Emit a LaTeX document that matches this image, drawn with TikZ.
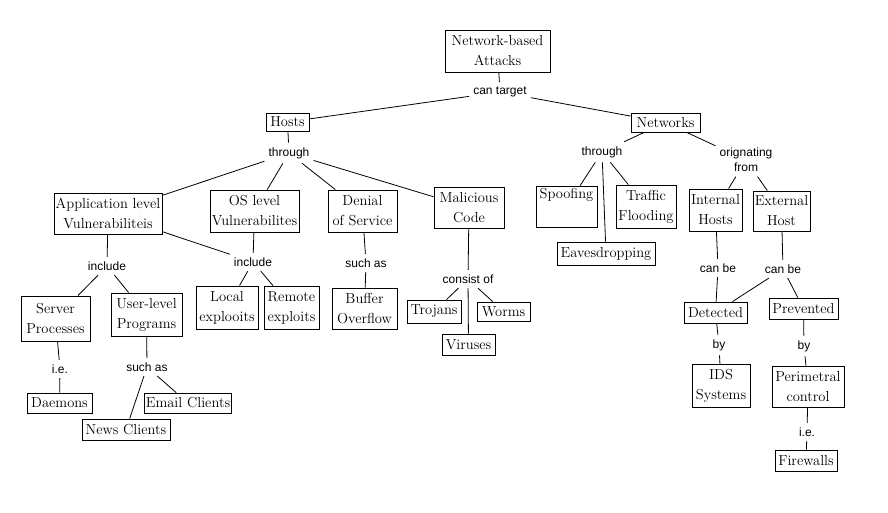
\documentclass[tikz,border=0pt]{standalone}
\usepackage{fontspec}
\newfontfamily\lblfont{Liberation Sans}
\begin{document}
\begin{tikzpicture}[x=1pt,y=-1pt,
  box/.style={draw, line width=0.8pt, align=center, inner sep=1pt, font=\fontsize{14.5}{20}\selectfont},
  lbl/.style={inner xsep=4pt, inner ysep=4.5pt, align=center, font=\lblfont\fontsize{12}{15}\selectfont},
  conn/.style={line width=0.8pt}]
\useasboundingbox[fill=white] (0,0) rectangle (888,512);
% boxes
\node[box, minimum width=105pt, minimum height=42pt] (nba) at (497.5,51) {Network-based\\Attacks};
\node[box, minimum width=43pt, minimum height=18pt] (hosts) at (287.5,122) {Hosts};
\node[box, minimum width=69pt, minimum height=19pt] (networks) at (665.5,122.5) {Networks};
\node[box, minimum width=108pt, minimum height=41pt] (app) at (108,213.5) {Application level\\Vulnerabiliteis};
\node[box, minimum width=89pt, minimum height=42pt] (os) at (254.5,211) {OS level\\Vulnerabilites};
\node[box, minimum width=69pt, minimum height=42pt] (dos) at (362.5,211) {Denial\\of Service};
\node[box, minimum width=70pt, minimum height=41pt] (mal) at (469,207.5) {Malicious\\Code};
\node[box, minimum width=61pt, minimum height=41pt] (spoof) at (566.5,206.5) {Spoofing\\\strut};
\node[box, minimum width=60pt, minimum height=43pt] (traffic) at (646,206.5) {Traffic\\Flooding};
\node[box, minimum width=98pt, minimum height=23pt] (eaves) at (606,253.5) {Eavesdropping};
\node[box, minimum width=53pt, minimum height=42pt] (internal) at (715.5,210) {Internal\\Hosts};
\node[box, minimum width=57pt, minimum height=40pt] (external) at (781.5,211) {External\\Host};
\node[box, minimum width=69pt, minimum height=45pt] (server) at (55.5,318.5) {Server\\Processes};
\node[box, minimum width=71pt, minimum height=43pt] (user) at (146.5,314.5) {User-level\\Programs};
\node[box, minimum width=62pt, minimum height=43pt] (local) at (227,307.5) {Local\\explooits};
\node[box, minimum width=55pt, minimum height=43pt] (remote) at (291.5,307.5) {Remote\\exploits};
\node[box, minimum width=65pt, minimum height=41pt] (buffer) at (364.5,308.5) {Buffer\\Overflow};
\node[box, minimum width=65pt, minimum height=20pt] (daemons) at (59.5,403) {Daemons};
\node[box, minimum width=86pt, minimum height=20pt] (email) at (188,403) {Email Clients};
\node[box, minimum width=88pt, minimum height=21pt] (news) at (126,429.5) {News Clients};
\node[box, minimum width=54pt, minimum height=23pt] (trojans) at (434,311.5) {Trojans};
\node[box, minimum width=53pt, minimum height=19pt] (worms) at (503.5,311.5) {Worms};
\node[box, minimum width=53pt, minimum height=21pt] (viruses) at (468.5,344.5) {Viruses};
\node[box, minimum width=63pt, minimum height=21pt] (detected) at (715.5,312.5) {Detected};
\node[box, minimum width=69pt, minimum height=21pt] (prevented) at (803.5,308.5) {Prevented};
\node[box, minimum width=58pt, minimum height=43pt] (ids) at (721,385.5) {IDS\\Systems};
\node[box, minimum width=72pt, minimum height=41pt] (perim) at (808,386.5) {Perimetral\\control};
\node[box, minimum width=62pt, minimum height=21pt] (firewalls) at (806,460.5) {Firewalls};
% labels
\node[lbl] (cantarget) at (500,92) {can target};
\node[lbl] (through1) at (289,153) {through};
\node[lbl] (through2) at (602,152) {through};
\node[lbl] (orig) at (746,160) {orignating\\from};
\node[lbl] (include1) at (107,266) {include};
\node[lbl] (include2) at (253,262) {include};
\node[lbl] (suchas1) at (366,263) {such as};
\node[lbl] (consist) at (468,279) {consist of};
\node[lbl] (ie1) at (60,369) {i.e.};
\node[lbl] (suchas2) at (147,367) {such as};
\node[lbl] (canbe1) at (718,268) {can be};
\node[lbl] (canbe2) at (783,269) {can be};
\node[lbl] (by1) at (719,345) {by};
\node[lbl] (by2) at (804,346) {by};
\node[lbl] (ie2) at (807,432) {i.e.};
% connectors
\draw[conn] (nba) -- (cantarget);
\draw[conn] (cantarget) -- (hosts);
\draw[conn] (cantarget) -- (networks);
\draw[conn] (hosts) -- (through1);
\draw[conn] (through1) -- (app);
\draw[conn] (through1) -- (os);
\draw[conn] (through1) -- (dos);
\draw[conn] (through1) -- (mal);
\draw[conn] (app) -- (include1);
\draw[conn] (app) -- (include2);
\draw[conn] (os) -- (include2);
\draw[conn] (include1) -- (server);
\draw[conn] (include1) -- (user);
\draw[conn] (include2) -- (local);
\draw[conn] (include2) -- (remote);
\draw[conn] (dos) -- (suchas1);
\draw[conn] (suchas1) -- (buffer);
\draw[conn] (mal) -- (consist);
\draw[conn] (consist) -- (trojans);
\draw[conn] (consist) -- (worms);
\draw[conn] (consist) -- (viruses);
\draw[conn] (server) -- (ie1);
\draw[conn] (ie1) -- (daemons);
\draw[conn] (user) -- (suchas2);
\draw[conn] (suchas2) -- (email);
\draw[conn] (suchas2) -- (news);
\draw[conn] (networks) -- (through2);
\draw[conn] (through2) -- (spoof);
\draw[conn] (through2) -- (traffic);
\draw[conn] (through2) -- (eaves);
\draw[conn] (networks) -- (orig);
\draw[conn] (orig) -- (internal);
\draw[conn] (orig) -- (external);
\draw[conn] (internal) -- (canbe1);
\draw[conn] (canbe1) -- (detected);
\draw[conn] (external) -- (canbe2);
\draw[conn] (canbe2) -- (detected);
\draw[conn] (canbe2) -- (prevented);
\draw[conn] (detected) -- (by1);
\draw[conn] (by1) -- (ids);
\draw[conn] (prevented) -- (by2);
\draw[conn] (by2) -- (perim);
\draw[conn] (perim) -- (ie2);
\draw[conn] (ie2) -- (firewalls);
\end{tikzpicture}
\end{document}
